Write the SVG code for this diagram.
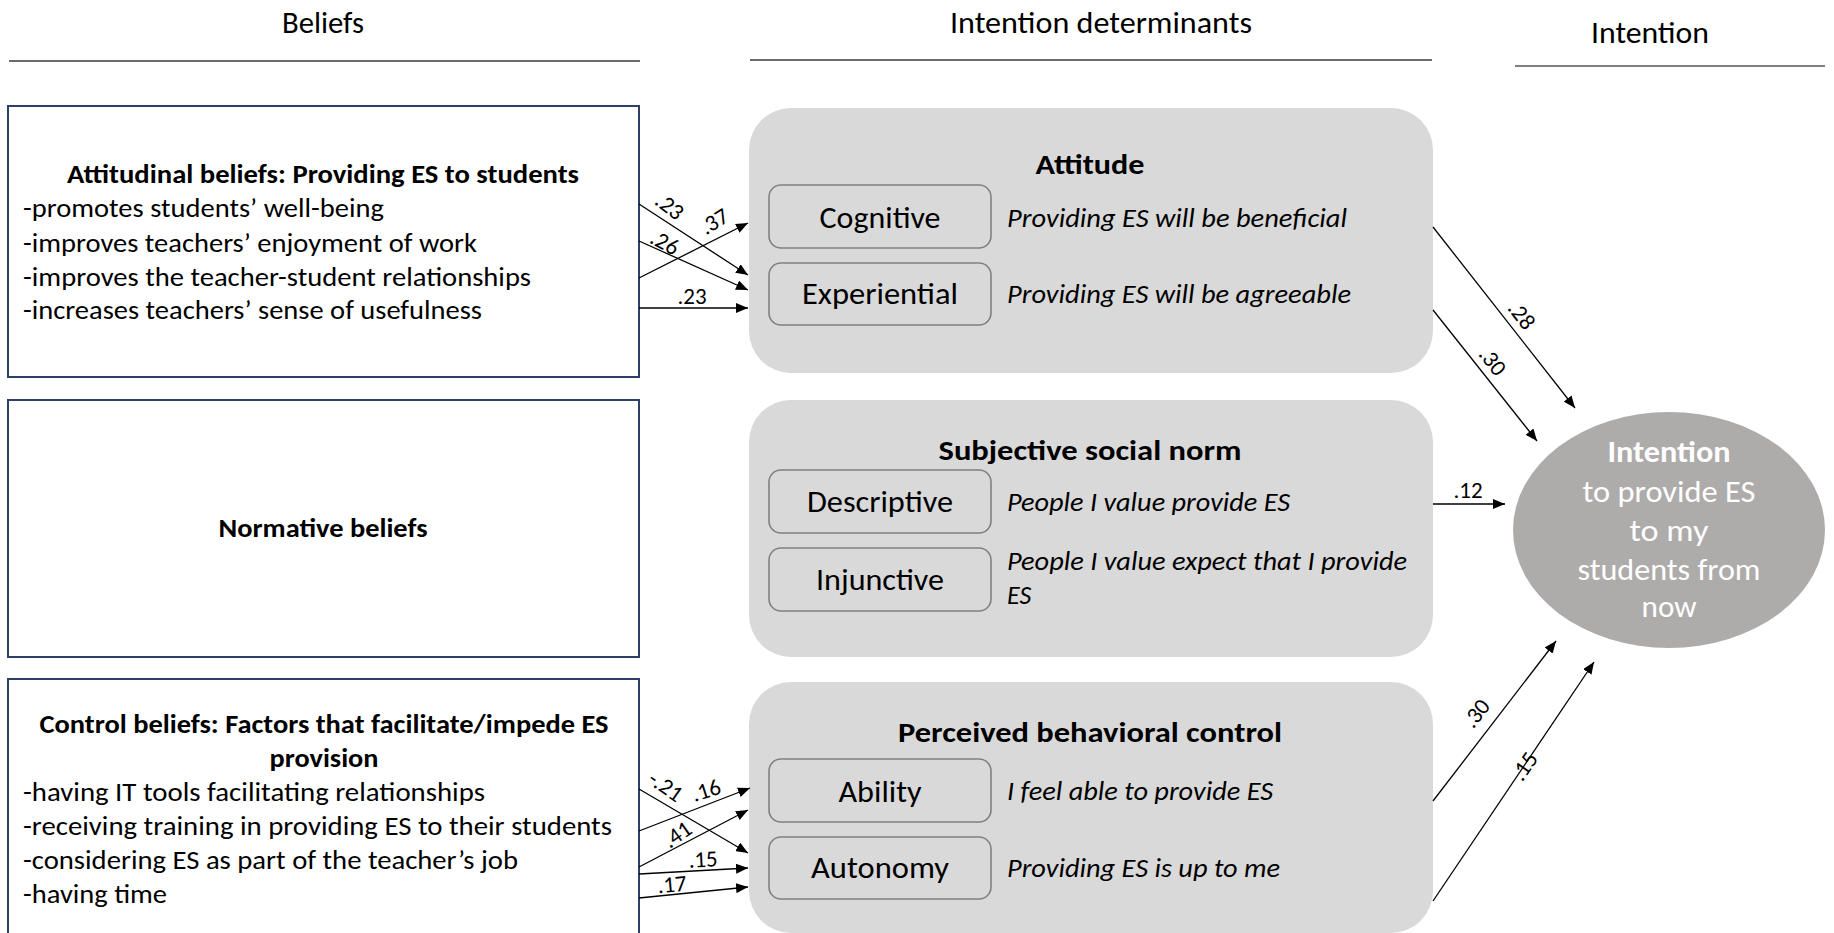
<svg xmlns="http://www.w3.org/2000/svg" width="1834" height="933" viewBox="0 0 1834 933">
<defs>
<style>
text{font-family:Carlito,Lato,"Liberation Sans",sans-serif;fill:#000}
.hdr{font-size:30px}
.hl{stroke-width:1.6}
.bel{fill:#fff;stroke:#2f4068;stroke-width:2}
.b{font-weight:bold}
.body{font-size:26px}
.grp{fill:#d9d9d9}
.sub{fill:#d9d9d9;stroke:#808080;stroke-width:1.6}
.lab{font-size:30px;text-anchor:middle}
.it{font-size:26px;font-style:italic}
.ttl{font-size:28px;font-weight:bold;text-anchor:middle}
.coef{font-size:23px;text-anchor:middle}
.con line{stroke:#000;stroke-width:1.3;marker-end:url(#ah)}
.iw{fill:#fff;font-size:30px;text-anchor:middle}
</style>
<marker id="ah" markerWidth="12" markerHeight="10" refX="12" refY="5" orient="auto" markerUnits="userSpaceOnUse"><path d="M0,0 L12,5 L0,10 z" fill="#000"/></marker>
</defs>
<rect width="1834" height="933" fill="#fff"/>

<g id="headers">
<text class="hdr" x="323" y="33" text-anchor="middle" textLength="82" lengthAdjust="spacingAndGlyphs">Beliefs</text>
<line class="hl" x1="9" y1="61" x2="640" y2="61" stroke="#3a3a3a"/>
<text class="hdr" x="1101" y="33" text-anchor="middle" textLength="302" lengthAdjust="spacingAndGlyphs">Intention determinants</text>
<line class="hl" x1="750" y1="60" x2="1432" y2="60" stroke="#3a3a3a"/>
<text class="hdr" x="1650" y="43" text-anchor="middle" textLength="118" lengthAdjust="spacingAndGlyphs">Intention</text>
<line x1="1515" y1="66" x2="1825" y2="66" stroke="#808080" stroke-width="2"/>
</g>

<g id="attitudinal-beliefs">
<rect class="bel" x="8" y="106" width="631" height="271"/>
<text class="body b" x="323" y="183" text-anchor="middle" textLength="512" lengthAdjust="spacingAndGlyphs">Attitudinal beliefs: Providing ES to students</text>
<text class="body" x="23" y="217" textLength="361" lengthAdjust="spacingAndGlyphs">-promotes students’ well-being</text>
<text class="body" x="23" y="252" textLength="454" lengthAdjust="spacingAndGlyphs">-improves teachers’ enjoyment of work</text>
<text class="body" x="23" y="286" textLength="508" lengthAdjust="spacingAndGlyphs">-improves the teacher-student relationships</text>
<text class="body" x="23" y="319" textLength="459" lengthAdjust="spacingAndGlyphs">-increases teachers’ sense of usefulness</text>
</g>

<g id="normative-beliefs">
<rect class="bel" x="8" y="400" width="631" height="257"/>
<text class="body b" x="323" y="537" text-anchor="middle" textLength="209" lengthAdjust="spacingAndGlyphs">Normative beliefs</text>
</g>

<g id="control-beliefs">
<rect class="bel" x="8" y="679" width="631" height="270"/>
<text class="body b" x="324" y="733" text-anchor="middle" textLength="569" lengthAdjust="spacingAndGlyphs">Control beliefs: Factors that facilitate/impede ES</text>
<text class="body b" x="324" y="767" text-anchor="middle" textLength="109" lengthAdjust="spacingAndGlyphs">provision</text>
<text class="body" x="23" y="801" textLength="462" lengthAdjust="spacingAndGlyphs">-having IT tools facilitating relationships</text>
<text class="body" x="23" y="835" textLength="589" lengthAdjust="spacingAndGlyphs">-receiving training in providing ES to their students</text>
<text class="body" x="23" y="869" textLength="495" lengthAdjust="spacingAndGlyphs">-considering ES as part of the teacher’s job</text>
<text class="body" x="23" y="903" textLength="144" lengthAdjust="spacingAndGlyphs">-having time</text>
</g>

<g id="attitude">
<rect class="grp" x="749" y="108" width="684" height="265" rx="42"/>
<text class="ttl" x="1090" y="174" textLength="109" lengthAdjust="spacingAndGlyphs">Attitude</text>
<rect class="sub" x="769" y="185" width="222" height="63" rx="12"/>
<text class="lab" x="880" y="228" textLength="121" lengthAdjust="spacingAndGlyphs">Cognitive</text>
<text class="it" x="1007" y="227" textLength="340" lengthAdjust="spacingAndGlyphs">Providing ES will be beneficial</text>
<rect class="sub" x="769" y="263" width="222" height="62" rx="12"/>
<text class="lab" x="880" y="304" textLength="156" lengthAdjust="spacingAndGlyphs">Experiential</text>
<text class="it" x="1007" y="303" textLength="344" lengthAdjust="spacingAndGlyphs">Providing ES will be agreeable</text>
</g>

<g id="subjective-norm">
<rect class="grp" x="749" y="400" width="684" height="257" rx="42"/>
<text class="ttl" x="1090" y="460" textLength="303" lengthAdjust="spacingAndGlyphs">Subjective social norm</text>
<rect class="sub" x="769" y="470" width="222" height="63" rx="12"/>
<text class="lab" x="880" y="512" textLength="146" lengthAdjust="spacingAndGlyphs">Descriptive</text>
<text class="it" x="1007" y="511" textLength="283" lengthAdjust="spacingAndGlyphs">People I value provide ES</text>
<rect class="sub" x="769" y="548" width="222" height="63" rx="12"/>
<text class="lab" x="880" y="590" textLength="128" lengthAdjust="spacingAndGlyphs">Injunctive</text>
<text class="it" x="1007" y="570" textLength="400" lengthAdjust="spacingAndGlyphs">People I value expect that I provide</text>
<text class="it" x="1007" y="604">ES</text>
</g>

<g id="perceived-control">
<rect class="grp" x="749" y="682" width="684" height="251" rx="42"/>
<text class="ttl" x="1090" y="742" textLength="384" lengthAdjust="spacingAndGlyphs">Perceived behavioral control</text>
<rect class="sub" x="769" y="759" width="222" height="63" rx="12"/>
<text class="lab" x="880" y="802" textLength="83" lengthAdjust="spacingAndGlyphs">Ability</text>
<text class="it" x="1007" y="800" textLength="266" lengthAdjust="spacingAndGlyphs">I feel able to provide ES</text>
<rect class="sub" x="769" y="837" width="222" height="62" rx="12"/>
<text class="lab" x="880" y="878" textLength="138" lengthAdjust="spacingAndGlyphs">Autonomy</text>
<text class="it" x="1007" y="877" textLength="273" lengthAdjust="spacingAndGlyphs">Providing ES is up to me</text>
</g>

<g id="intention">
<ellipse cx="1669" cy="530" rx="156" ry="118" fill="#aeabab"/>
<text class="iw b" x="1669" y="462" textLength="123" lengthAdjust="spacingAndGlyphs">Intention</text>
<text class="iw" x="1669" y="502" textLength="173" lengthAdjust="spacingAndGlyphs">to provide ES</text>
<text class="iw" x="1669" y="541" textLength="79" lengthAdjust="spacingAndGlyphs">to my</text>
<text class="iw" x="1669" y="580" textLength="183" lengthAdjust="spacingAndGlyphs">students from</text>
<text class="iw" x="1669" y="617" textLength="55" lengthAdjust="spacingAndGlyphs">now</text>
</g>

<g id="connectors" class="con">
<line x1="639" y1="204" x2="748" y2="275"/>
<line x1="639" y1="241" x2="748" y2="290"/>
<line x1="639" y1="278" x2="748" y2="223"/>
<line x1="639" y1="308" x2="748" y2="308"/>
<line x1="639" y1="789" x2="748" y2="853"/>
<line x1="639" y1="831" x2="750" y2="788"/>
<line x1="639" y1="867" x2="748" y2="810"/>
<line x1="639" y1="874" x2="748" y2="868"/>
<line x1="639" y1="898" x2="748" y2="887"/>
<line x1="1433" y1="227" x2="1575" y2="408"/>
<line x1="1433" y1="310" x2="1537" y2="441"/>
<line x1="1433" y1="504" x2="1505" y2="504"/>
<line x1="1433" y1="801" x2="1556" y2="641"/>
<line x1="1433" y1="901" x2="1594" y2="662"/>
</g>

<g id="coefficients">
<text class="coef" transform="translate(670,206) rotate(38)" dy="8">.23</text>
<text class="coef" transform="translate(665,242) rotate(28)" dy="8">.26</text>
<text class="coef" transform="translate(714,221) rotate(-32)" dy="8">.37</text>
<text class="coef" x="692" y="304">.23</text>
<text class="coef" transform="translate(666,786) rotate(35)" dy="8">-.21</text>
<text class="coef" transform="translate(706,790) rotate(-18)" dy="8">.16</text>
<text class="coef" transform="translate(677,834) rotate(-35)" dy="8">.41</text>
<text class="coef" transform="translate(703,859) rotate(-3)" dy="8">.15</text>
<text class="coef" transform="translate(672,884) rotate(-5)" dy="8">.17</text>
<text class="coef" transform="translate(1522,315) rotate(52)" dy="8">.28</text>
<text class="coef" transform="translate(1493,361) rotate(52)" dy="8">.30</text>
<text class="coef" x="1468" y="498">.12</text>
<text class="coef" transform="translate(1476,713) rotate(-52)" dy="8">.30</text>
<text class="coef" transform="translate(1524,766) rotate(-55)" dy="8">.15</text>
</g>
</svg>
